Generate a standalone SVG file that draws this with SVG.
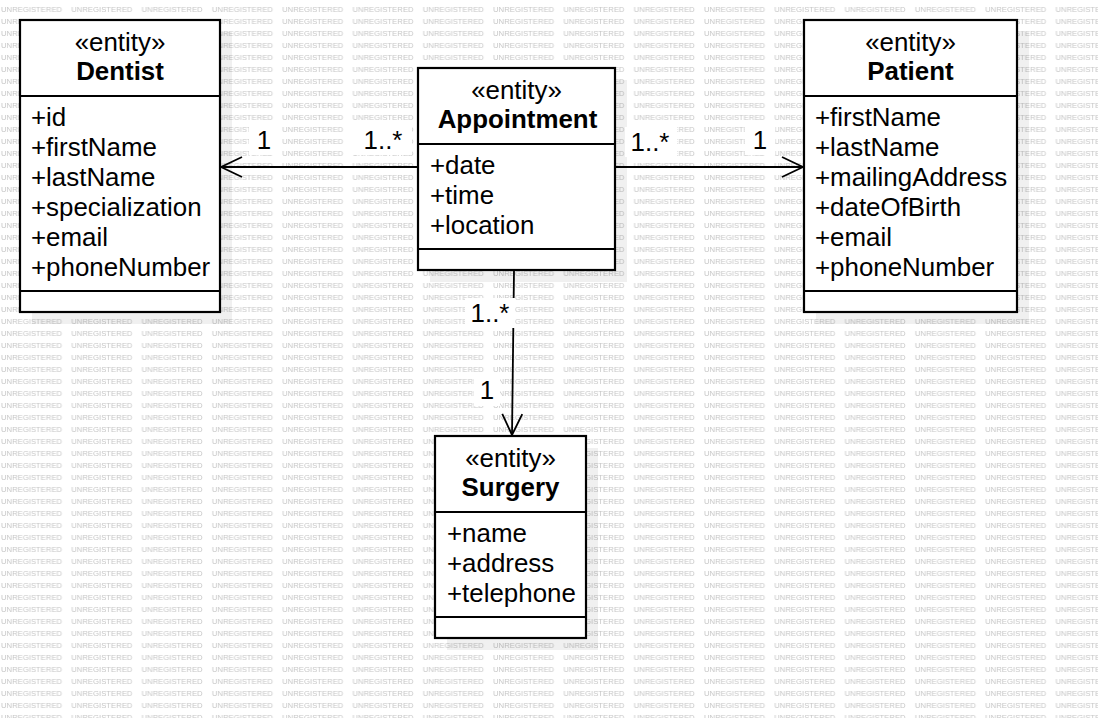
<svg xmlns="http://www.w3.org/2000/svg" width="1098" height="718" viewBox="0 0 1098 718">
<style>
.box{fill:#fff;stroke:#000;stroke-width:2.2}
.sep{stroke:#000;stroke-width:2.2}
.shadow{fill:#000;fill-opacity:0.06}
.t{font-family:"Liberation Sans",Arial,sans-serif;font-size:25.9px;fill:#000}
.b{font-weight:bold}
.c{text-anchor:middle}
.wm{font-family:"Liberation Sans",Arial,sans-serif;font-size:7.7px;fill:#c6c6c6}
.edge{stroke:#000;stroke-width:1.8;fill:none}
.lbg{fill:#fff}
</style>
<defs>
<pattern id="wmPat" patternUnits="userSpaceOnUse" x="1" y="0" width="70.3" height="12">
<text class="wm" x="0" y="11.8">UNREGISTERED</text>
</pattern>
<marker id="open" viewBox="0 0 24 24" refX="22" refY="12" markerWidth="24" markerHeight="24" markerUnits="userSpaceOnUse" orient="auto">
<path d="M1,2 L22,12 L1,22" fill="none" stroke="#000" stroke-width="1.8"/>
</marker>
</defs>
<rect width="1098" height="718" fill="#fff"/>
<rect width="1098" height="718" fill="url(#wmPat)"/>

<g id="shadows">
<rect class="shadow" x="32" y="32" width="200" height="292"/>
<rect class="shadow" x="430" y="80" width="197" height="202"/>
<rect class="shadow" x="816" y="32" width="213" height="292"/>
<rect class="shadow" x="447" y="448" width="151" height="202"/>
</g>

<g id="connectors">
<line class="edge" x1="418" y1="167" x2="221" y2="167" marker-end="url(#open)"/>
<line class="edge" x1="615" y1="167" x2="803" y2="167" marker-end="url(#open)"/>
<line class="edge" x1="514" y1="271" x2="512" y2="435" marker-end="url(#open)"/>
<g id="labels">
<rect class="lbg" x="249" y="125" width="30" height="30"/>
<text class="t c" x="264" y="149">1</text>
<rect class="lbg" x="352" y="125" width="60" height="30"/>
<text class="t c" x="383" y="149">1..*</text>
<rect class="lbg" x="625" y="127" width="52" height="30"/>
<text class="t c" x="650" y="151">1..*</text>
<rect class="lbg" x="745" y="125" width="30" height="30"/>
<text class="t c" x="760" y="149">1</text>
<rect class="lbg" x="465" y="298" width="50" height="30"/>
<text class="t c" x="490" y="322">1..*</text>
<rect class="lbg" x="474" y="376" width="26" height="30"/>
<text class="t c" x="487" y="399">1</text>
</g>
</g>

<g id="dentist">
<rect class="box" x="20" y="20" width="200" height="292"/>
<line class="sep" x1="20" y1="96" x2="220" y2="96"/>
<line class="sep" x1="20" y1="291" x2="220" y2="291"/>
<text class="t c" x="120" y="51">«entity»</text>
<text class="t c b" x="120" y="80">Dentist</text>
<text class="t" x="31" y="126">+id</text>
<text class="t" x="31" y="156">+firstName</text>
<text class="t" x="31" y="186">+lastName</text>
<text class="t" x="31" y="216">+specialization</text>
<text class="t" x="31" y="246">+email</text>
<text class="t" x="31" y="276">+phoneNumber</text>
</g>

<g id="appointment">
<rect class="box" x="418" y="68" width="197" height="202"/>
<line class="sep" x1="418" y1="144" x2="615" y2="144"/>
<line class="sep" x1="418" y1="249" x2="615" y2="249"/>
<text class="t c" x="516.5" y="99">«entity»</text>
<text class="t c b" x="517.5" y="128">Appointment</text>
<text class="t" x="430" y="174">+date</text>
<text class="t" x="430" y="204">+time</text>
<text class="t" x="430" y="234">+location</text>
</g>

<g id="patient">
<rect class="box" x="804" y="20" width="213" height="292"/>
<line class="sep" x1="804" y1="96" x2="1017" y2="96"/>
<line class="sep" x1="804" y1="291" x2="1017" y2="291"/>
<text class="t c" x="910.5" y="51">«entity»</text>
<text class="t c b" x="910.5" y="80">Patient</text>
<text class="t" x="815" y="126">+firstName</text>
<text class="t" x="815" y="156">+lastName</text>
<text class="t" x="815" y="186">+mailingAddress</text>
<text class="t" x="815" y="216">+dateOfBirth</text>
<text class="t" x="815" y="246">+email</text>
<text class="t" x="815" y="276">+phoneNumber</text>
</g>

<g id="surgery">
<rect class="box" x="435" y="436" width="151" height="202"/>
<line class="sep" x1="435" y1="512" x2="586" y2="512"/>
<line class="sep" x1="435" y1="617" x2="586" y2="617"/>
<text class="t c" x="510.5" y="467">«entity»</text>
<text class="t c b" x="510.5" y="496">Surgery</text>
<text class="t" x="447" y="542">+name</text>
<text class="t" x="447" y="572">+address</text>
<text class="t" x="447" y="602">+telephone</text>
</g>
</svg>
